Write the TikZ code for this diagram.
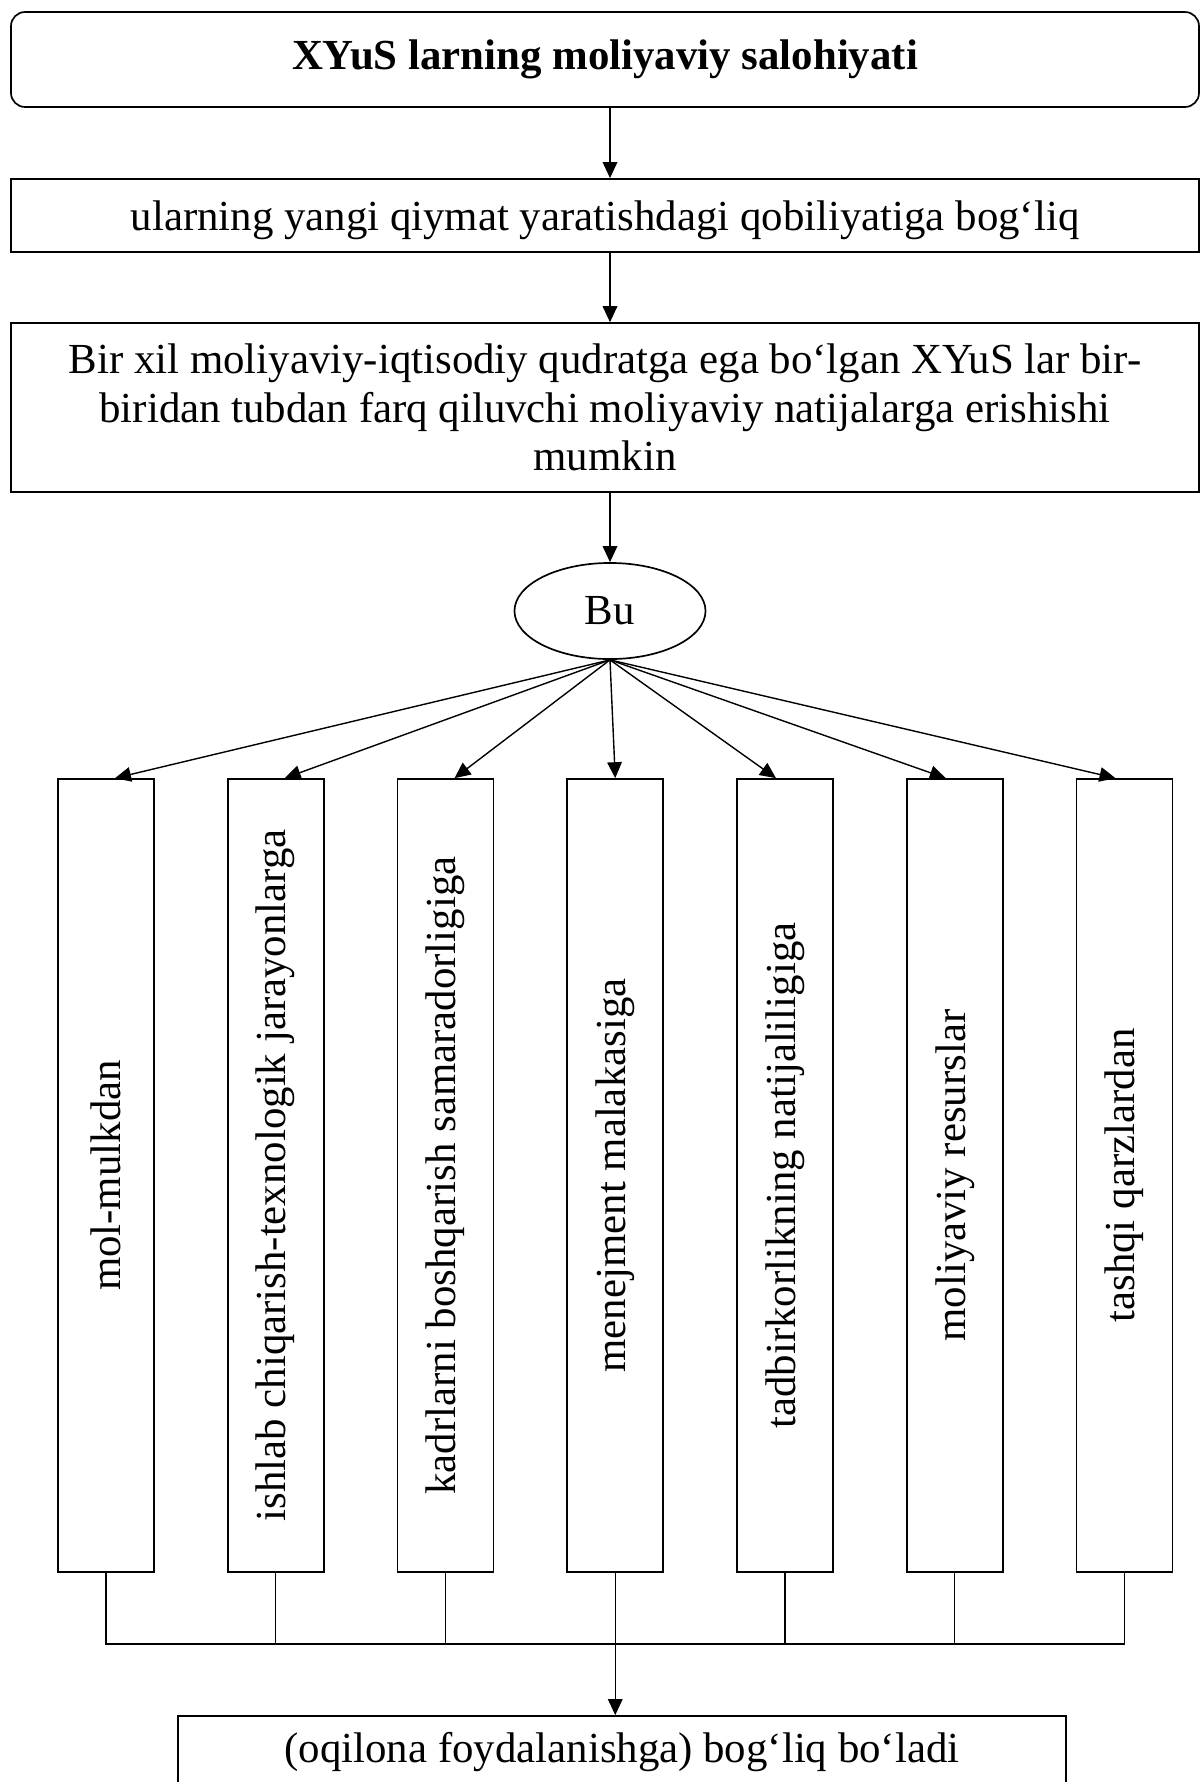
\documentclass[tikz,border=0pt]{standalone}
\usepackage{fontspec}
\setmainfont{Liberation Serif}
\usepackage{tikz}
\usetikzlibrary{positioning, arrows.meta, shapes.geometric, calc}

\begin{document}
\begin{tikzpicture}[
    x=0.357pt, y=-0.357pt,
    node distance=25.7pt,
    every node/.style={align=center, inner sep=0pt, font=\fontsize{15.3pt}{17.4pt}\selectfont},
    box/.style={rectangle, draw, line width=0.6pt, minimum width=424.1pt},
    vbox/.style={rectangle, draw, line width=0.6pt, minimum width=34.3pt, minimum height=283.1pt},
    arr/.style={-{Triangle[length=5.7pt,width=5.2pt]}, line width=0.5pt}
]
    \useasboundingbox (0,0) rectangle (1200,1782);

    \node[box, rounded corners=5pt, minimum height=33.9pt] (title) at (605,59.5) {\textbf{XYuS larning moliyaviy salohiyati}};
    \node[box, minimum height=26.1pt, text height=14pt, text depth=3.6pt] (ability) at (605,215.5) {ularning yangi qiymat yaratishdagi qobiliyatiga bog‘liq};
    \node[box, minimum height=60.3pt] (result) at (605,407.5) {Bir xil moliyaviy-iqtisodiy qudratga ega bo‘lgan XYuS lar bir-\\ biridan tubdan farq qiluvchi moliyaviy natijalarga erishishi\\ mumkin};
    \node[ellipse, draw, line width=0.6pt, minimum width=68.2pt, minimum height=34.3pt] (bu) at (610,611) {Bu};

    \node[vbox] (v1) at (106,1175.5) {\rotatebox{90}{mol-mulkdan}};
    \node[vbox, right=of v1] (v2) {\rotatebox{90}{ishlab chiqarish-texnologik jarayonlarga}};
    \node[vbox, right=of v2] (v3) {\rotatebox{90}{kadrlarni boshqarish samaradorligiga}};
    \node[vbox, right=of v3] (v4) {\rotatebox{90}{menejment malakasiga}};
    \node[vbox, right=of v4] (v5) {\rotatebox{90}{tadbirkorlikning natijaliligiga}};
    \node[vbox, right=of v5] (v6) {\rotatebox{90}{moliyaviy resurslar}};
    \node[vbox, right=of v6] (v7) {\rotatebox{90}{tashqi qarzlardan}};

    \node[box, minimum width=317pt, minimum height=26.1pt] (depends) at (622,1752.5) {(oqilona foydalanishga) bog‘liq bo‘ladi};
    \coordinate (bar) at (610,1644);

    \draw[arr] (title.south -| bu) -- (ability.north -| bu);
    \draw[arr] (ability.south -| bu) -- (result.north -| bu);
    \draw[arr] (result.south -| bu) -- (bu.north);

    \draw[arr] (bu.south) -- ($(v1.north)+(9,0)$);
    \draw[arr] (bu.south) -- ($(v2.north)+(9,0)$);
    \draw[arr] (bu.south) -- ($(v3.north)+(9,0)$);
    \draw[arr] (bu.south) -- (v4.north);
    \draw[arr] (bu.south) -- ($(v5.north)+(-9,0)$);
    \draw[arr] (bu.south) -- ($(v6.north)+(-9,0)$);
    \draw[arr] (bu.south) -- ($(v7.north)+(-9,0)$);

    \draw[line width=0.5pt] (v1.south) -- (v1.south |- bar) -- (v7.south |- bar) -- (v7.south);
    \draw[line width=0.5pt] (v2.south) -- (v2.south |- bar);
    \draw[line width=0.5pt] (v3.south) -- (v3.south |- bar);
    \draw[line width=0.5pt] (v5.south) -- (v5.south |- bar);
    \draw[line width=0.5pt] (v6.south) -- (v6.south |- bar);
    \draw[arr] (v4.south) -- (v4.south |- depends.north);
\end{tikzpicture}
\end{document}
